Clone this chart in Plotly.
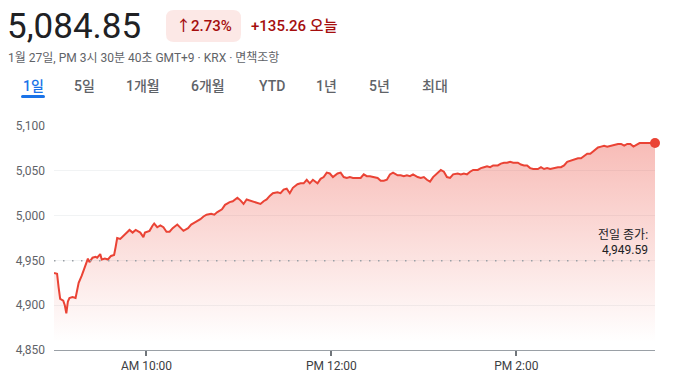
import plotly.graph_objects as go

# ---------------- data ----------------
day = "2026-01-27"
times = ["09:00","09:02","09:03","09:04","09:06","09:07","09:08","09:09","09:10","09:12",
         "09:14","09:15","09:16","09:18","09:20","09:22","09:23","09:25","09:27","09:28",
         "09:30","09:31","09:33","09:35","09:37","09:39","09:40","09:41","09:43","09:45",
         "09:47","09:49","09:51","09:53","09:56","09:58","09:59","10:02","10:04","10:05",
         "10:07","10:09","10:11","10:13","10:15","10:17","10:20","10:22","10:24","10:27",
         "10:29","10:32","10:35","10:37","10:39","10:42","10:44","10:46","10:49","10:51",
         "10:54","10:56","10:59","11:01","11:03","11:05","11:07","11:09","11:12","11:14",
         "11:16","11:18","11:20","11:22","11:25","11:27","11:29","11:31","11:33","11:35",
         "11:38","11:40","11:42","11:44","11:46","11:48","11:51","11:53","11:55","11:57",
         "11:59","12:01","12:04","12:06","12:08","12:10","12:12","12:14","12:17","12:19",
         "12:21","12:23","12:25","12:27","12:30","12:32","12:34","12:36","12:38","12:40",
         "12:43","12:45","12:47","12:49","12:51","12:53","12:56","12:58","13:00","13:02",
         "13:04","13:06","13:09","13:11","13:13","13:15","13:17","13:19","13:22","13:24",
         "13:26","13:28","13:30","13:32","13:35","13:37","13:39","13:41","13:43","13:45",
         "13:48","13:50","13:52","13:54","13:56","13:58","14:01","14:03","14:05","14:07",
         "14:09","14:11","14:14","14:16","14:18","14:20","14:22","14:24","14:27","14:29",
         "14:31","14:33","14:35","14:37","14:40","14:42","14:44","14:46","14:48","14:50",
         "14:53","14:55","14:57","14:59","15:01","15:03","15:06","15:08","15:10","15:12",
         "15:14","15:16","15:19","15:20","15:30"]
values = [4936,4935,4920,4907,4905,4900,4891,4904,4908,4909,
          4908,4915,4925,4933,4943,4952,4948,4953,4954,4953,
          4957,4951,4952,4951,4955,4956,4965,4975,4974,4977,
          4980,4984,4981,4984,4981,4976,4981,4983,4989,4991,
          4987,4989,4987,4982,4982,4986,4990,4986,4983,4986,
          4990,4993,4996,4999,5001,5002,5001,5004,5007,5012,
          5015,5016,5020,5017,5013,5018,5017,5016,5014,5013,
          5016,5018,5022,5025,5026,5025,5029,5030,5025,5031,
          5035,5036,5036,5040,5036,5040,5036,5041,5043,5048,
          5047,5043,5047,5048,5043,5042,5043,5042,5042,5042,
          5046,5044,5044,5043,5042,5039,5039,5040,5046,5048,
          5045,5045,5044,5045,5044,5046,5043,5042,5043,5040,
          5038,5043,5048,5051,5049,5043,5042,5046,5047,5046,
          5047,5046,5049,5051,5051,5053,5054,5055,5054,5056,
          5056,5058,5059,5059,5060,5059,5059,5057,5056,5056,
          5053,5052,5052,5054,5052,5053,5052,5053,5054,5054,
          5056,5060,5061,5062,5064,5064,5067,5069,5069,5072,
          5076,5077,5078,5077,5078,5079,5080,5080,5078,5080,
          5080,5077,5080,5081,5081]
prev_close = 4949.59
price_text = "5,084.85"
change_pct_text = "2.73%"
change_abs_text = "+135.26 오늘"
subtitle = "1월 27일, PM 3시 30분 40초 GMT+9 · KRX · 면책조항"
tabs = ["1일", "5일", "1개월", "6개월", "YTD", "1년", "5년", "최대"]
x_tickvals = ["10:00", "12:00", "14:00"]
x_ticktext = ["AM 10:00", "PM 12:00", "PM 2:00"]
y_tickvals = [4850, 4900, 4950, 5000, 5050, 5100]
y_ticktext = ["4,850", "4,900", "4,950", "5,000", "5,050", "5,100"]

# ---------------- layout helpers ----------------
W, H = 686, 386
L, R, T, B = 54, 31, 126, 36
PW, PH = W - L - R, H - T - B
def px(x): return (x - L) / PW
def py(y): return (H - B - y) / PH

FONT = "Roboto, 'Noto Sans CJK KR', sans-serif"
RED = "#ea4335"
xs = [f"{day} {t}" for t in times]

fig = go.Figure()
fig.add_trace(go.Scatter(
    x=xs, y=values, mode="lines",
    line=dict(color=RED, width=2),
    fill="tozeroy",
    fillgradient=dict(type="vertical", start=4860, stop=5085,
                      colorscale=[[0, "rgba(234,67,53,0.0)"], [1, "rgba(234,67,53,0.36)"]]),
    hoverinfo="skip", showlegend=False))
fig.add_trace(go.Scatter(
    x=[xs[-1]], y=[values[-1]], mode="markers",
    marker=dict(color=RED, size=10), cliponaxis=False,
    hoverinfo="skip", showlegend=False))

# previous close dotted line
fig.add_shape(type="line", xref="paper", yref="y", x0=0, x1=1, y0=prev_close, y1=prev_close,
              line=dict(color="#9aa0a6", width=1.5, dash="1.5px,7.5px"), layer="above")

ann = []
def text(x, y, s, size, color, anchor="left", weight=None, yanchor="middle"):
    f = dict(family=FONT, size=size, color=color)
    if weight:
        f["weight"] = weight
    ann.append(dict(x=px(x), y=py(y), xref="paper", yref="paper", text=s, showarrow=False,
                    xanchor=anchor, yanchor=yanchor, font=f))

text(5, 26, price_text, 35, "#202124")
text(174, 26, "↑" + change_pct_text, 15, "#a50e0e", weight=500)
text(249, 26, change_abs_text, 15, "#a50e0e", weight=500)
text(6, 57, subtitle, 12, "#5f6368")
tab_centers = [33, 84, 143, 208, 272, 326, 379, 435]
for t, cx in zip(tabs, tab_centers):
    text(cx, 86, t, 14, "#1a73e8" if t == "1일" else "#5f6368", anchor="center", weight=500)
text(650, 235, "전일 종가:", 12, "#202124", anchor="right")
text(650, 250, f"{prev_close:,.2f}", 12, "#202124", anchor="right")

# badge (rounded rect) and tab underline
def rounded(x0, y0, x1, y1, r):
    pts = [f"M {px(x0+r)} {py(y0)}", f"L {px(x1-r)} {py(y0)}", f"Q {px(x1)} {py(y0)} {px(x1)} {py(y0+r)}",
           f"L {px(x1)} {py(y1-r)}", f"Q {px(x1)} {py(y1)} {px(x1-r)} {py(y1)}",
           f"L {px(x0+r)} {py(y1)}", f"Q {px(x0)} {py(y1)} {px(x0)} {py(y1-r)}",
           f"L {px(x0)} {py(y0+r)}", f"Q {px(x0)} {py(y0)} {px(x0+r)} {py(y0)}", "Z"]
    return " ".join(pts)
fig.add_shape(type="path", xref="paper", yref="paper", path=rounded(166, 10, 241, 42, 8),
              fillcolor="#fce8e6", line=dict(width=0), layer="below")
fig.add_shape(type="path", xref="paper", yref="paper", path=rounded(21, 95, 45, 98, 1.5),
              fillcolor="#1a73e8", line=dict(width=0))

fig.update_layout(
    width=W, height=H, margin=dict(l=L, r=R, t=T, b=B),
    paper_bgcolor="white", plot_bgcolor="white",
    font=dict(family=FONT, color="#5f6368", size=12),
    annotations=ann, showlegend=False,
    xaxis=dict(range=[f"{day} 09:00", f"{day} 15:30"], tickvals=[f"{day} {t}" for t in x_tickvals],
               ticktext=x_ticktext, showgrid=False, zeroline=False, showline=True,
               linecolor="#9aa0a6", linewidth=1, ticks="outside", ticklen=5, tickwidth=2,
               tickcolor="#70757a", tickfont=dict(size=12, color="#3c4043")),
    yaxis=dict(range=[4850, 5100], tickvals=y_tickvals, ticktext=y_ticktext,
               showgrid=True, gridcolor="#f1f3f4", gridwidth=1, zeroline=False, showline=False,
               ticks="", ticklabelstandoff=8, tickfont=dict(size=12, color="#5f6368")),
)
fig.write_html("out.html", config={"displayModeBar": False},
               post_script="document.body.style.margin='0';")
